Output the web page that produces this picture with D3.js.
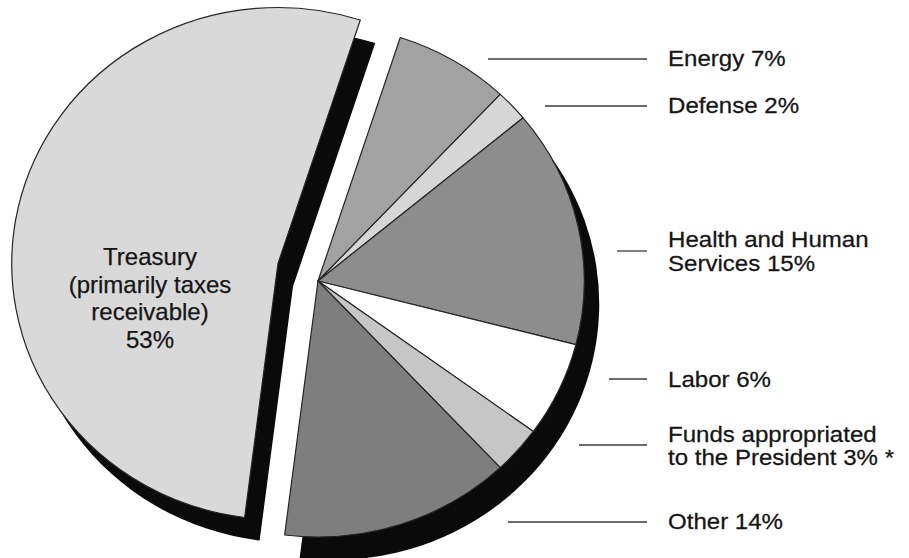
<!DOCTYPE html>
<html>
<head>
<meta charset="utf-8">
<script src="https://cdn.jsdelivr.net/npm/d3@7"></script>
<style>
  html, body { margin: 0; padding: 0; background: #ffffff; }
  svg { display: block; }
  text { font-family: "Liberation Sans", Arial, Helvetica, sans-serif; fill: #151515; stroke: #151515; stroke-width: 0.25px; }
</style>
</head>
<body>
<svg id="chart" width="909" height="558"></svg>
<script>
// ---- data ----
const categories = ["Energy", "Defense", "Health and Human Services", "Labor",
                    "Funds appropriated to the President", "Other", "Treasury"];
const shares = [7, 2, 15, 6, 3, 14, 53];
const labelText = [
  ["Energy 7%"],
  ["Defense 2%"],
  ["Health and Human", "Services 15%"],
  ["Labor 6%"],
  ["Funds appropriated", "to the President 3% *"],
  ["Other 14%"],
  ["Treasury", "(primarily taxes", "receivable)", "53%"]
];

// ---- styles / layout ----
const fills = ["#a2a2a2", "#d6d6d6", "#8d8d8d", "#ffffff", "#c6c6c6", "#7e7e7e", "#d9d9d9"];
const center = [318, 281];
const explodeShift = [-40, -17.5];
const shadowShift = [15, 23];
const radius = 256, xStretch = 1.04;
const startDeg = 18;
// label layout: [lineStartX, lineY, firstBaseline]
const labelLayout = [
  [488, 59, 65.5],
  [545, 106, 112.7],
  [617, 251, 246.7],
  [609, 379, 387.3],
  [579, 445, 441.5],
  [508, 522, 529.3]
];
const lineEndX = 647, textX = 668, lineGap = 24;
const labelFont = 21.3, labelScaleX = 1.13;

const svg = d3.select("#chart");
const rad = Math.PI / 180;
const pie = d3.pie().sort(null).value(d => d)
  .startAngle(startDeg * rad).endAngle(startDeg * rad + 2 * Math.PI);
const arcs = pie(shares);
const arc = d3.arc().innerRadius(0).outerRadius(radius);

const isTreasury = (d, i) => categories[i] === "Treasury";
const rightArcs = arcs.filter((d, i) => !isTreasury(d, i));
const treasuryArc = arcs[categories.indexOf("Treasury")];
const groupArc = {
  startAngle: d3.min(rightArcs, d => d.startAngle),
  endAngle: d3.max(rightArcs, d => d.endAngle)
};

const tx = center[0] + explodeShift[0], ty = center[1] + explodeShift[1];

// shadows
svg.append("path")
  .attr("transform", `translate(${tx + shadowShift[0]},${ty + shadowShift[1]}) scale(${xStretch},1)`)
  .attr("d", arc(treasuryArc))
  .attr("fill", "#0a0a0a");
svg.append("path")
  .attr("transform", `translate(${center[0] + shadowShift[0]},${center[1] + shadowShift[1]}) scale(${xStretch},1)`)
  .attr("d", arc(groupArc))
  .attr("fill", "#0a0a0a");

// treasury slice
svg.append("path")
  .attr("transform", `translate(${tx},${ty}) scale(${xStretch},1)`)
  .attr("d", arc(treasuryArc))
  .attr("fill", fills[6])
  .attr("stroke", "#262626")
  .attr("stroke-width", 1.2)
  .attr("vector-effect", "non-scaling-stroke")
  .attr("stroke-linejoin", "miter");

// right slices
const rg = svg.append("g")
  .attr("transform", `translate(${center[0]},${center[1]}) scale(${xStretch},1)`);
rg.selectAll("path.slice")
  .data(rightArcs)
  .join("path")
  .attr("class", "slice")
  .attr("d", arc)
  .attr("fill", d => fills[d.index])
  .attr("stroke", "#262626")
  .attr("stroke-width", 1.2)
  .attr("vector-effect", "non-scaling-stroke")
  .attr("stroke-linejoin", "round");

// leader lines + labels for right slices
labelLayout.forEach((lay, i) => {
  svg.append("line")
    .attr("x1", lay[0]).attr("x2", lineEndX)
    .attr("y1", lay[1]).attr("y2", lay[1])
    .attr("stroke", "#3a3a3a").attr("stroke-width", 1.3);
  const t = svg.append("text")
    .attr("transform", `translate(${textX},${lay[2]}) scale(${labelScaleX},1)`)
    .attr("font-size", labelFont);
  labelText[i].forEach((s, k) => {
    t.append("tspan").attr("x", 0).attr("y", k * lineGap).text(s);
  });
});

// treasury label
const tLab = svg.append("text")
  .attr("text-anchor", "middle")
  .attr("font-size", 24);
labelText[6].forEach((s, k) => {
  tLab.append("tspan").attr("x", 150).attr("y", 265 + k * 27.7).text(s);
});
</script>
</body>
</html>
